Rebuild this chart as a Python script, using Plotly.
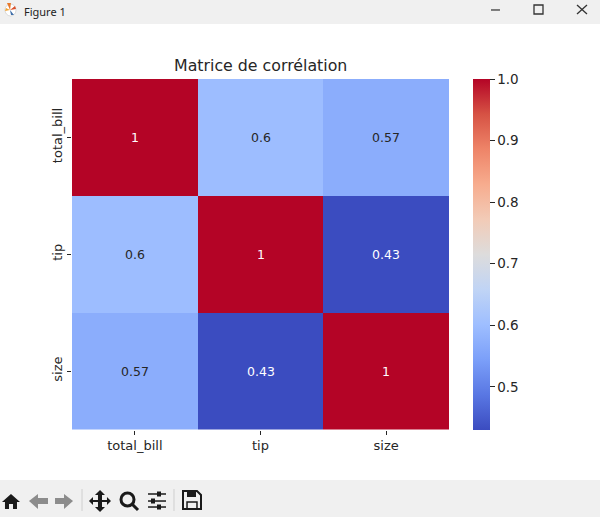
import plotly.graph_objects as go

W, H = 600, 517

labels = ["total_bill", "tip", "size"]
corr = [[1, 0.6, 0.57],
        [0.6, 1, 0.43],
        [0.57, 0.43, 1]]
cbar_ticks = [0.5, 0.6, 0.7, 0.8, 0.9, 1.0]

coolwarm = [[0.0, "#3b4cc0"], [0.1, "#5977e3"], [0.2, "#7b9ff9"], [0.3, "#9ebeff"],
            [0.4, "#c0d4f5"], [0.5, "#dddcdc"], [0.6, "#f2cbb7"], [0.7, "#f7ac8e"],
            [0.8, "#ee8468"], [0.9, "#d65244"], [1.0, "#b40426"]]

FONT = "DejaVu Sans"
DARK = "#262626"


def px(x):
    return x / W


def py(y):
    return 1 - y / H


def rect(x0, y0, x1, y1, color):
    return dict(type="rect", xref="paper", yref="paper", x0=px(x0), x1=px(x1),
                y0=py(y0), y1=py(y1), fillcolor=color, line_width=0, layer="below")


def poly(points, color, closed=True, width=0):
    # window chrome icons, given in screen pixels
    d = "M " + " L ".join(f"{px(x):.4f} {py(y):.4f}" for x, y in points)
    if closed:
        d += " Z"
    return dict(type="path", xref="paper", yref="paper", path=d,
                fillcolor=color if closed else "rgba(0,0,0,0)",
                line=dict(color=color, width=width))


fig = go.Figure(go.Heatmap(
    z=corr, x=labels, y=labels, zmin=0.43, zmax=1.0, colorscale=coolwarm,
    xgap=0, ygap=0, hoverongaps=False,
    colorbar=dict(x=px(473), xanchor="left", xpad=0, ypad=0, thickness=17,
                  len=350.5 / H, lenmode="fraction", y=py(79), yanchor="top",
                  outlinewidth=0, tickvals=cbar_ticks,
                  ticktext=[f"{t:.1f}" for t in cbar_ticks],
                  ticks="outside", ticklen=5, tickcolor=DARK, tickwidth=1,
                  tickfont=dict(family=FONT, size=13.5, color=DARK)),
))

# cell labels, white on the saturated cells
for i, row in enumerate(corr):
    for j, v in enumerate(row):
        fig.add_annotation(x=labels[j], y=labels[i], text=str(v), showarrow=False,
                           font=dict(family=FONT, size=12.5,
                                     color="white" if v == 1 or v < 0.5 else DARK))

fig.add_annotation(x=px(260), y=py(65), xref="paper", yref="paper", yanchor="middle",
                   text="Matrice de corrélation",
                   showarrow=False, font=dict(family=FONT, size=15.8, color=DARK))
fig.add_annotation(x=px(22), y=py(11.5), xref="paper", yref="paper", xanchor="left", yanchor="middle",
                   text="Figure 1",
                   showarrow=False, font=dict(family="Noto Sans", size=11, color="#222222"))

BAR = "#f0f0f0"
ICON = "#1a1a1a"
GREY = "#8c8c8c"
shapes = [rect(0, 0, W, 24, BAR), rect(0, 480, W, H, BAR)]

# title bar buttons
shapes.append(poly([(491, 10), (500, 10)], "#555555", closed=False, width=1.5))
shapes.append(poly([(534, 5), (543, 5), (543, 14), (534, 14)], "#333333", closed=False, width=1.3))
shapes[-1]["path"] += " Z"
shapes.append(poly([(577, 5), (587, 14)], "#333333", closed=False, width=1.3))
shapes.append(poly([(587, 5), (577, 14)], "#333333", closed=False, width=1.3))
# app icon: white disc with the coloured wedges of the matplotlib logo
shapes.append(dict(type="circle", xref="paper", yref="paper", x0=px(5), x1=px(16),
                   y0=py(4), y1=py(16), fillcolor="white", line=dict(color="#bbbbbb", width=0.5)))
shapes.append(poly([(10, 10), (7, 3), (11, 3)], "#e8792b"))
shapes.append(poly([(10, 10), (15, 6), (16, 9)], "#d9512c"))
shapes.append(poly([(10, 10), (14, 15), (11, 15)], "#3f6ea8"))
shapes.append(poly([(10, 10), (5, 11), (6, 8)], "#f0a63a"))

# toolbar: home
shapes.append(poly([(2, 502), (11, 494), (20, 502), (17, 502), (17, 509), (13, 509), (13, 504),
                    (9, 504), (9, 509), (5, 509), (5, 502)], ICON))
# back / forward
shapes.append(poly([(29, 501), (38, 494), (38, 498), (48, 498), (48, 504), (38, 504), (38, 509)], GREY))
shapes.append(poly([(73, 501), (64, 494), (64, 498), (55, 498), (55, 504), (64, 504), (64, 509)], GREY))
# separators
shapes.append(poly([(82, 489), (82, 511)], "#cfcfcf", closed=False, width=1))
shapes.append(poly([(174, 489), (174, 511)], "#cfcfcf", closed=False, width=1))
# pan
shapes.append(poly([(100, 490), (105, 495), (102, 495), (102, 500), (107, 500), (107, 497), (111, 501),
                    (107, 505), (107, 502), (102, 502), (102, 507), (105, 507), (100, 512), (95, 507),
                    (98, 507), (98, 502), (93, 502), (93, 505), (89, 501), (93, 497), (93, 500),
                    (98, 500), (98, 495), (95, 495)], ICON))
# zoom
shapes.append(dict(type="circle", xref="paper", yref="paper", x0=px(121), x1=px(134),
                   y0=py(493), y1=py(506), line=dict(color=ICON, width=3)))
shapes.append(poly([(132, 504), (138, 510)], ICON, closed=False, width=3))
# sliders
for y, knob in [(494, 159), (501, 153), (507, 159)]:
    shapes.append(poly([(148, y), (166, y)], ICON, closed=False, width=1.5))
    shapes.append(rect(knob - 2, y - 2.5, knob + 2, y + 2.5, ICON) | {"layer": "above"})
# save
shapes.append(poly([(183, 491), (197, 491), (201, 495), (201, 509), (183, 509)], ICON, width=2))
shapes[-1]["fillcolor"] = "rgba(0,0,0,0)"
shapes.append(rect(187, 491, 196, 497, ICON) | {"layer": "above"})
shapes.append(poly([(187, 509), (187, 502), (197, 502), (197, 509)], ICON, closed=False, width=1.5))

fig.update_layout(
    width=W, height=H, autosize=False, margin=dict(l=0, r=0, t=0, b=0),
    paper_bgcolor="white", plot_bgcolor="white", showlegend=False, shapes=shapes,
    xaxis=dict(domain=[px(72), px(449)], tickfont=dict(family=FONT, size=13, color=DARK),
               ticks="outside", ticklen=4, tickcolor=DARK, tickwidth=1,
               showgrid=False, zeroline=False, showline=False),
    yaxis=dict(domain=[py(429.5), py(79)], autorange="reversed", tickangle=-90,
               tickfont=dict(family=FONT, size=13, color=DARK),
               ticks="outside", ticklen=4, tickcolor=DARK, tickwidth=1,
               showgrid=False, zeroline=False, showline=False),
)

# the page has a default body margin that would push the figure off the window
fig.write_html("out.html", config={"displayModeBar": False},
               post_script="document.body.style.margin='0';document.body.style.overflow='hidden';")
